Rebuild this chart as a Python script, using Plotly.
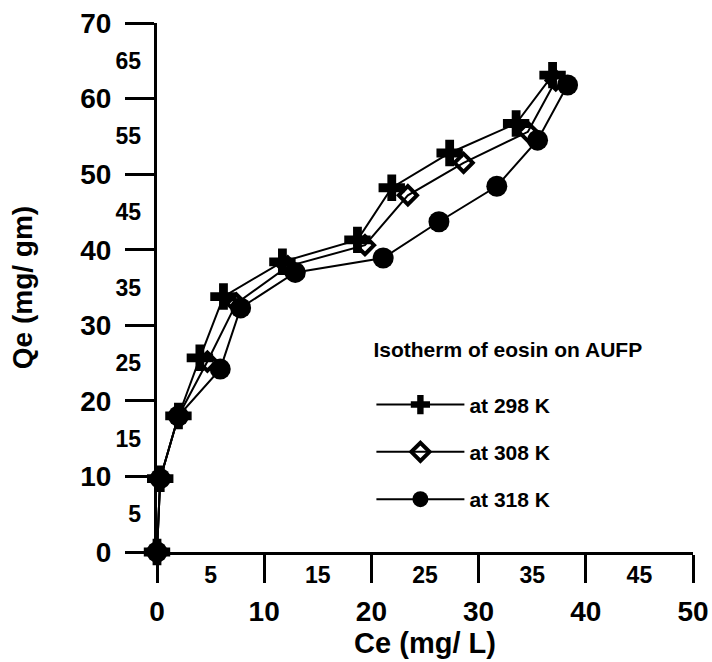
import plotly.graph_objects as go

# Data
ce_298 = [0, 0.3, 2.0, 4.0, 6.2, 11.7, 18.7, 21.9, 27.3, 33.5, 36.9]
qe_298 = [0, 9.7, 18.0, 25.7, 33.8, 38.4, 41.3, 48.2, 52.8, 56.7, 63.1]

ce_308 = [0, 0.3, 2.0, 4.7, 7.4, 12.2, 19.4, 23.4, 28.6, 34.6, 37.2]
qe_308 = [0, 9.7, 18.0, 25.2, 32.9, 37.8, 40.6, 47.2, 51.5, 55.6, 62.4]

ce_318 = [0, 0.3, 2.0, 5.9, 7.8, 12.9, 21.1, 26.3, 31.7, 35.5, 38.3]
qe_318 = [0, 9.7, 18.0, 24.2, 32.3, 37.0, 38.9, 43.7, 48.4, 54.5, 61.8]

x_major = [0, 10, 20, 30, 40, 50]
x_minor = [5, 15, 25, 35, 45]
y_major = [0, 10, 20, 30, 40, 50, 60, 70]
y_minor = [5, 15, 25, 35, 45, 55, 65]

FONT = "Liberation Sans, Arial, sans-serif"

fig = go.Figure()

fig.add_trace(go.Scatter(
    x=ce_298, y=qe_298, mode="lines+markers", name="at 298 K",
    line=dict(color="black", width=2),
    marker=dict(symbol="cross", size=22, color="black", line=dict(width=0)),
    cliponaxis=False, legendgroup="a",
))
fig.add_trace(go.Scatter(
    x=ce_308, y=qe_308, mode="lines+markers", name="at 308 K",
    line=dict(color="black", width=2),
    marker=dict(symbol="diamond-open", size=14, color="black",
                line=dict(width=4, color="black")),
    cliponaxis=False, legendgroup="b",
))
fig.add_trace(go.Scatter(
    x=ce_318, y=qe_318, mode="lines+markers", name="at 318 K",
    line=dict(color="black", width=2),
    marker=dict(symbol="circle", size=21, color="black", line=dict(width=0)),
    cliponaxis=False, legendgroup="c",
))

# invisible trace to activate the overlay axes that carry the minor tick labels
fig.add_trace(go.Scatter(x=[0, 50], y=[0, 70], xaxis="x2", yaxis="y2",
                         mode="markers", marker=dict(opacity=0),
                         showlegend=False, hoverinfo="skip"))

fig.update_layout(
    width=712, height=662,
    margin=dict(l=157, r=19, t=23, b=110, autoexpand=False),
    paper_bgcolor="white", plot_bgcolor="white",
    font=dict(family=FONT, color="black"),
    showlegend=True,
    legend=dict(
        x=0.4, y=0.42, xanchor="left", yanchor="top",
        bgcolor="rgba(0,0,0,0)",
        title=dict(text="Isotherm of eosin on AUFP<br><span style='font-size:9px'> </span>",
                   font=dict(family=FONT, size=21, weight="bold")),
        font=dict(family=FONT, size=21, weight="bold"),
        itemwidth=88, traceorder="grouped", tracegroupgap=17,
    ),
    xaxis=dict(
        range=[0, 50], tickvals=x_major, ticktext=[str(v) for v in x_major],
        showline=True, linewidth=3, linecolor="black",
        ticks="outside", ticklen=28, tickwidth=3, tickcolor="black",
        showgrid=False, zeroline=False, automargin=False,
        tickfont=dict(family=FONT, size=28, weight="bold"),
        ticklabelstandoff=4,
        title=dict(text="Ce (mg/ L)", standoff=0,
                   font=dict(family=FONT, size=29, weight="bold")),
    ),
    yaxis=dict(
        range=[0, 70], tickvals=y_major, ticktext=[str(v) for v in y_major],
        showline=True, linewidth=3, linecolor="black",
        ticks="outside", ticklen=29, tickwidth=3, tickcolor="black",
        showgrid=False, zeroline=False, automargin=False,
        tickfont=dict(family=FONT, size=28, weight="bold"),
        ticklabelstandoff=8,
        title=dict(text="Qe (mg/ gm)", standoff=40,
                   font=dict(family=FONT, size=28, weight="bold")),
    ),
    xaxis2=dict(
        range=[0, 50], overlaying="x", anchor="y2", side="bottom",
        tickvals=x_minor, ticktext=[str(v) for v in x_minor],
        ticks="", showline=False, showgrid=False, zeroline=False, automargin=False,
        tickfont=dict(family=FONT, size=23, weight="bold"),
        ticklabelstandoff=7,
    ),
    yaxis2=dict(
        range=[0, 70], overlaying="y", anchor="x2", side="left",
        tickvals=y_minor, ticktext=[str(v) for v in y_minor],
        ticks="", showline=False, showgrid=False, zeroline=False, automargin=False,
        tickfont=dict(family=FONT, size=23, weight="bold"),
        ticklabelstandoff=15,
    ),
)

fig.write_html("out.html")
